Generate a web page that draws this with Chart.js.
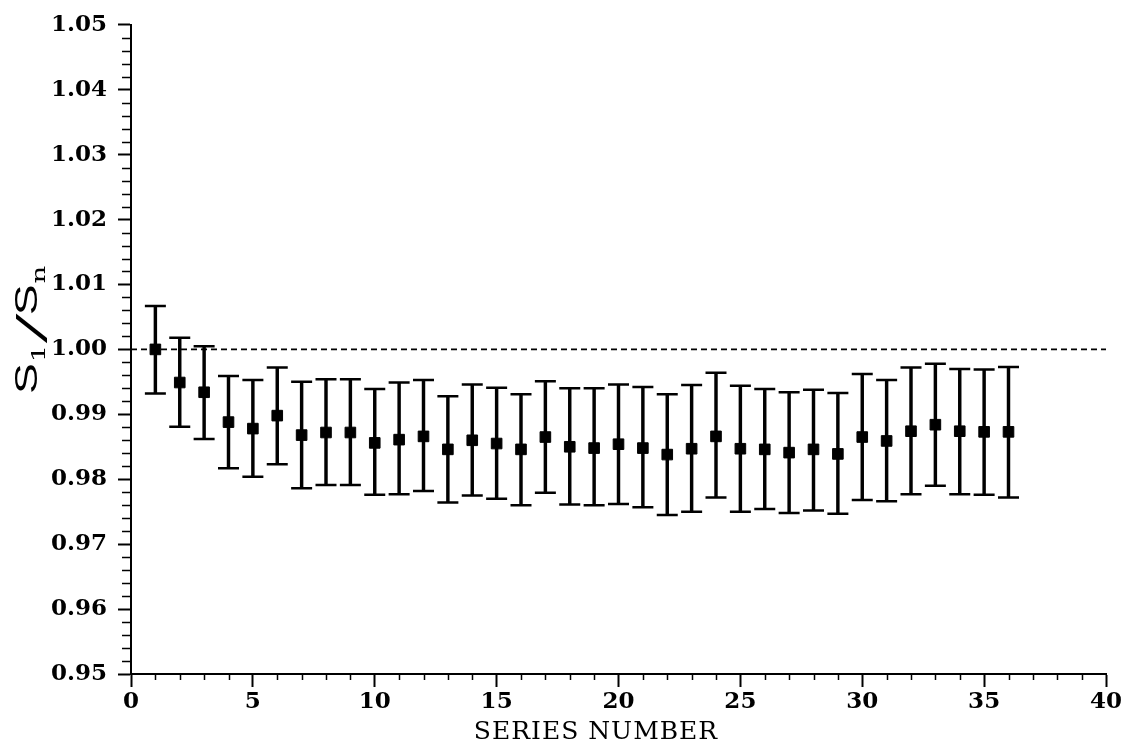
<!DOCTYPE html>
<html><head><meta charset="utf-8">
<script src="https://cdn.jsdelivr.net/npm/chart.js@4/dist/chart.umd.min.js"></script>
<style>html,body{margin:0;padding:0;background:#fff;}canvas{display:block;}</style>
</head><body>
<canvas id="c" width="1127" height="751"></canvas>
<script>
const seriesNumbers = [1,2,3,4,5,6,7,8,9,10,11,12,13,14,15,16,17,18,19,20,21,22,23,24,25,26,27,28,29,30,31,32,33,34,35,36];
const ratio = [1.0000,0.9949,0.9934,0.9888,0.9878,0.9898,0.9868,0.9872,0.9872,0.9856,0.9861,0.9866,0.9846,0.9860,0.9855,0.9846,0.9865,0.9850,0.9848,0.9854,0.9848,0.9838,0.9847,0.9866,0.9847,0.9846,0.9841,0.9846,0.9839,0.9865,0.9859,0.9874,0.9884,0.9874,0.9873,0.9873];
const upper = [1.0067,1.0018,1.0005,0.9959,0.9953,0.9972,0.9950,0.9954,0.9954,0.9939,0.9949,0.9953,0.9928,0.9946,0.9941,0.9931,0.9951,0.9940,0.9940,0.9946,0.9942,0.9931,0.9945,0.9964,0.9944,0.9939,0.9934,0.9938,0.9933,0.9962,0.9953,0.9972,0.9978,0.9970,0.9969,0.9973];
const lower = [0.9932,0.9881,0.9862,0.9817,0.9804,0.9823,0.9786,0.9791,0.9791,0.9776,0.9777,0.9782,0.9764,0.9775,0.9770,0.9760,0.9779,0.9761,0.9760,0.9762,0.9757,0.9745,0.9750,0.9772,0.9750,0.9754,0.9748,0.9752,0.9747,0.9768,0.9766,0.9777,0.9790,0.9777,0.9776,0.9772];
const referenceLevel = 1.00;
const xTicks = [0,5,10,15,20,25,30,35,40];
const yTicks = [0.95,0.96,0.97,0.98,0.99,1.00,1.01,1.02,1.03,1.04,1.05];
const xTitle = 'SERIES NUMBER';

const markerData = seriesNumbers.map((n,i)=>({x:n,y:ratio[i]}));
const stemData = seriesNumbers.map((n,i)=>({x:n,y:[lower[i],upper[i]]}));
const capData = seriesNumbers.map((n,i)=>({x:n,y:upper[i]})).concat(seriesNumbers.map((n,i)=>({x:n,y:lower[i]})));
const refData = [{x:xTicks[0],y:referenceLevel},{x:xTicks[xTicks.length-1],y:referenceLevel}];

const tickFont = {family:'"DejaVu Serif"', weight:'bold', size:23};

const decorPlugin = {
  id:'decor',
  afterDraw(chart){
    const ctx = chart.ctx, xs = chart.scales.x, ys = chart.scales.y;
    const L = chart.chartArea.left, B = chart.chartArea.bottom;
    ctx.save();
    ctx.strokeStyle = '#000'; ctx.lineWidth = 1.5;
    ctx.beginPath();
    for (let k=0;k<=50;k++){
      if (k%5===0) continue;
      const v = ys.min + k*(ys.max-ys.min)/50;
      const y = Math.round(ys.getPixelForValue(v))+0.5;
      ctx.moveTo(L-9,y); ctx.lineTo(L,y);
    }
    for (let n=xs.min;n<=xs.max;n++){
      if (n%5===0) continue;
      const x = Math.round(xs.getPixelForValue(n))+0.5;
      ctx.moveTo(x,B); ctx.lineTo(x,B+6);
    }
    ctx.stroke();
    ctx.fillStyle = '#000';
    ctx.font = '25px "DejaVu Serif"';
    try { ctx.letterSpacing = '1px'; } catch(e){}
    ctx.textAlign = 'center'; ctx.textBaseline = 'alphabetic';
    ctx.fillText(xTitle, 596, 739);
    try { ctx.letterSpacing = '0px'; } catch(e){}
    ctx.translate(37, 394);
    ctx.rotate(-Math.PI/2);
    ctx.scale(1.45,1);
    ctx.textAlign = 'left';
    let u = 0;
    const big = '32px "Liberation Sans"', small = '19px "DejaVu Serif"';
    ctx.font = big; ctx.fillText('S',u,0); u += ctx.measureText('S').width + 0.5;
    ctx.font = small; ctx.fillText('1',u,8); u += ctx.measureText('1').width + 1;
    ctx.save(); ctx.translate(u,10); ctx.scale(1.6,1); ctx.font = '46px "Liberation Serif"'; ctx.fillText('/',0,0); u += ctx.measureText('/').width*1.6 - 1; ctx.restore();
    ctx.font = big; ctx.fillText('S',u,0); u += ctx.measureText('S').width + 0.5;
    ctx.font = small; ctx.fillText('n',u,8);
    ctx.restore();
  }
};

new Chart(document.getElementById('c'), {
  type:'scatter',
  data:{datasets:[
    {type:'scatter', data:markerData, pointStyle:'rect', pointRadius:7.5, pointHoverRadius:7.5, backgroundColor:'#000', borderColor:'#000', borderWidth:1},
    {type:'scatter', data:capData, pointStyle:'line', pointRadius:10.5, pointHoverRadius:10.5, borderColor:'#000', borderWidth:2.5},
    {type:'bar', data:stemData, barThickness:2.8, backgroundColor:'#000', borderWidth:0},
    {type:'line', data:refData, borderColor:'#000', borderWidth:1.8, borderDash:[6,4], pointRadius:0, fill:false}
  ]},
  options:{
    responsive:false, animation:false, devicePixelRatio:1,
    layout:{padding:{top:19,right:21,left:0,bottom:0}},
    plugins:{legend:{display:false}, tooltip:{enabled:false}},
    events:[],
    scales:{
      x:{type:'linear', min:0, max:40, offset:false,
        afterBuildTicks:s=>{s.ticks = xTicks.map(v=>({value:v}));},
        afterFit:s=>{s.height = 77;},
        ticks:{font:tickFont, color:'#000', padding:1, maxRotation:0, autoSkip:false, callback:v=>String(v)},
        grid:{offset:false, drawOnChartArea:false, drawTicks:true, tickLength:13, tickColor:'#000', tickWidth:2},
        border:{color:'#000', width:2}},
      y:{type:'linear', min:0.95, max:1.05, offset:false,
        afterBuildTicks:s=>{s.ticks = yTicks.map(v=>({value:v}));},
        afterFit:s=>{s.width = 131;},
        ticks:{font:tickFont, color:'#000', padding:11, autoSkip:false, callback:v=>Number(v).toFixed(2)},
        grid:{offset:false, drawOnChartArea:false, drawTicks:true, tickLength:13, tickColor:'#000', tickWidth:2},
        border:{color:'#000', width:2}}
    }
  },
  plugins:[decorPlugin]
});
</script>
</body></html>
